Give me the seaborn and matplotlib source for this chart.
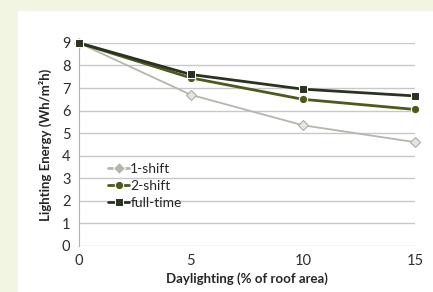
import matplotlib.pyplot as plt
import seaborn as sns
import pandas as pd
from matplotlib.patches import Rectangle

daylighting = [0, 5, 10, 15]
one_shift = [9.0, 6.7, 5.35, 4.6]
two_shift = [9.0, 7.45, 6.5, 6.05]
full_time = [9.0, 7.6, 6.95, 6.65]
series_names = ["1-shift", "2-shift", "full-time"]

df = pd.DataFrame({
    "daylighting": daylighting * 3,
    "energy": one_shift + two_shift + full_time,
    "schedule": [n for n in series_names for _ in daylighting],
})

palette = {"1-shift": "#b4b6ad", "2-shift": "#4d5a1c", "full-time": "#2a3222"}
markers = {"1-shift": "D", "2-shift": "o", "full-time": "s"}

sns.set_style("white")
plt.rcParams["font.family"] = ["Lato", "DejaVu Sans"]

fig = plt.figure(figsize=(4.33, 2.92), dpi=100)
fig.patch.set_facecolor("#f2f5e1")
# white card behind the chart
fig.patches.append(Rectangle((18 / 433, 0), 1, 1 - 11 / 292, transform=fig.transFigure,
                             facecolor="white", edgecolor="none", zorder=-10))

ax = fig.add_axes([0.182, 0.158, 0.776, 0.695])
ax.set_facecolor("white")
sns.lineplot(data=df, x="daylighting", y="energy", hue="schedule", style="schedule",
             palette=palette, markers=markers, dashes=False, linewidth=2,
             markersize=6, ax=ax, clip_on=False)

for line, name in zip(ax.lines, series_names):
    if name == "1-shift":
        line.set_linewidth(1.3)
        line.set_markersize(5)
        line.set_markerfacecolor("#e4e5df")
        line.set_markeredgecolor("#a8aaa0")
    line.set_zorder(3)

ax.set_xlim(0, 15)
ax.set_ylim(0, 9)
ax.set_xticks([0, 5, 10, 15])
ax.set_yticks(range(10))
ax.grid(axis="y", color="#c8c8c8", linewidth=1)
ax.grid(axis="x", visible=False)
for side in ["top", "right", "bottom"]:
    ax.spines[side].set_visible(False)
ax.spines["left"].set_color("#b0b0b0")
ax.tick_params(axis="both", length=0, labelsize=10.5, colors="#2e2e2e", pad=6)

ax.set_xlabel("Daylighting (% of roof area)", fontsize=9.5, fontweight="bold", labelpad=3)
ax.set_ylabel("Lighting Energy (Wh/m²h)", fontsize=9.5, fontweight="bold", labelpad=7)

handles, labels = ax.get_legend_handles_labels()
ax.legend(handles, labels, loc="lower left", bbox_to_anchor=(0.05, 0.12), frameon=False,
          fontsize=10, handlelength=1.5, handletextpad=0.1, labelspacing=0.35)

fig.savefig("out.png", dpi=100, facecolor=fig.get_facecolor())
